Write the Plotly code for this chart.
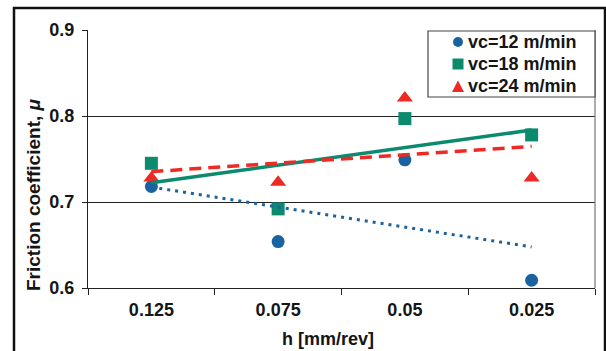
import numpy as np
import plotly.graph_objects as go

# ---- data ----
categories = ["0.125", "0.075", "0.05", "0.025"]
series_names = ["vc=12 m/min", "vc=18 m/min", "vc=24 m/min"]
mu_vc12 = [0.718, 0.654, 0.749, 0.609]
mu_vc18 = [0.745, 0.692, 0.797, 0.778]
mu_vc24 = [0.728, 0.723, 0.821, 0.728]
y_ticks = [0.6, 0.7, 0.8, 0.9]

colors = ["#1a62a0", "#0b8a6e", "#ee2a24"]
symbols = ["circle", "square", "triangle-up"]
sizes = [13, 13, 14]
dashes = ["3px,5px", "solid", "12px,7px"]
widths = [3, 3.5, 3.5]

W, H = 606, 351
ML, MR, MT, MB = 88, 11, 30, 63
PW, PH = W - ML - MR, H - MT - MB

def px_x(p):
    return (p - ML) / PW

def px_y(p):
    return (H - MB - p) / PH

fig = go.Figure()
all_series = [mu_vc12, mu_vc18, mu_vc24]
for name, vals, c, s, sz in zip(series_names, all_series, colors, symbols, sizes):
    fig.add_trace(go.Scatter(x=categories, y=vals, mode="markers", name=name,
                             showlegend=False,
                             marker=dict(color=c, symbol=s, size=sz, line=dict(width=0))))

idx = np.arange(len(categories))
for vals, c, d, w in zip(all_series, colors, dashes, widths):
    k, b = np.polyfit(idx, vals, 1)
    fig.add_trace(go.Scatter(x=categories, y=(k * idx + b).tolist(), mode="lines",
                             showlegend=False, hoverinfo="skip",
                             line=dict(color=c, width=w, dash=d)))

font = "Liberation Sans, Arial, sans-serif"
def F(size):
    return dict(family=font, size=size, color="#151515", weight="bold")

annotations = [
    dict(text="h [mm/rev]", xref="paper", yref="paper",
         x=px_x(328), y=px_y(339), xanchor="center", yanchor="middle",
         showarrow=False, font=F(18)),
    dict(text="Friction coefficient, <i>μ</i>", xref="paper", yref="paper",
         x=px_x(33), y=px_y(195), xanchor="center", yanchor="middle", textangle=-90,
         showarrow=False, font=F(19)),
]
shapes = [
    dict(type="line", xref="paper", yref="paper", x0=1, x1=1, y0=0, y1=1,
         line=dict(color="#777", width=1.2)),
    dict(type="rect", xref="paper", yref="paper",
         x0=px_x(14), x1=px_x(605), y0=px_y(8), y1=px_y(370),
         line=dict(color="#111", width=2.5), layer="above"),
    # legend box
    dict(type="rect", xref="paper", yref="paper",
         x0=px_x(428), x1=px_x(595), y0=px_y(31), y1=px_y(97),
         fillcolor="white", line=dict(color="#444", width=1.2), layer="above"),
]

# legend rows (symbols drawn as shapes, labels as text)
row_y = [42, 64, 86.5]
sym_x = 458
for name, c, s, ry in zip(series_names, colors, symbols, row_y):
    annotations.append(dict(text=name, xref="paper", yref="paper",
                            x=px_x(466), y=px_y(ry), xanchor="left", yanchor="middle",
                            showarrow=False, font=F(18)))
    if s == "circle":
        shapes.append(dict(type="circle", xref="paper", yref="paper",
                           x0=px_x(sym_x - 5), x1=px_x(sym_x + 5),
                           y0=px_y(ry - 5), y1=px_y(ry + 5),
                           fillcolor=c, line=dict(width=0), layer="above"))
    elif s == "square":
        shapes.append(dict(type="rect", xref="paper", yref="paper",
                           x0=px_x(sym_x - 5.5), x1=px_x(sym_x + 5.5),
                           y0=px_y(ry - 5.5), y1=px_y(ry + 5.5),
                           fillcolor=c, line=dict(width=0), layer="above"))
    else:
        path = "M {:.5f} {:.5f} L {:.5f} {:.5f} L {:.5f} {:.5f} Z".format(
            px_x(sym_x - 6), px_y(ry + 5.5), px_x(sym_x + 6), px_y(ry + 5.5),
            px_x(sym_x), px_y(ry - 6))
        shapes.append(dict(type="path", xref="paper", yref="paper", path=path,
                           fillcolor=c, line=dict(width=0), layer="above"))

fig.update_layout(
    width=W, height=H,
    margin=dict(l=ML, r=MR, t=MT, b=MB),
    paper_bgcolor="white", plot_bgcolor="white",
    font=F(18),
    showlegend=False,
    xaxis=dict(type="category", range=[-0.5, 3.5], tickson="boundaries",
               ticks="outside", ticklen=6, tickcolor="#222", showgrid=False,
               showline=True, linecolor="#222", linewidth=1.2,
               tickfont=F(18), ticklabelstandoff=5),
    yaxis=dict(range=[0.6, 0.9], tickvals=y_ticks, ticktext=[f"{v:.1f}" for v in y_ticks],
               ticks="outside", ticklen=5, tickcolor="#222",
               showgrid=True, gridcolor="#222", gridwidth=1,
               showline=True, linecolor="#222", linewidth=1.2, zeroline=False,
               tickfont=F(18), ticklabelstandoff=4),
    annotations=annotations,
    shapes=shapes,
)

fig.write_html("out.html")
